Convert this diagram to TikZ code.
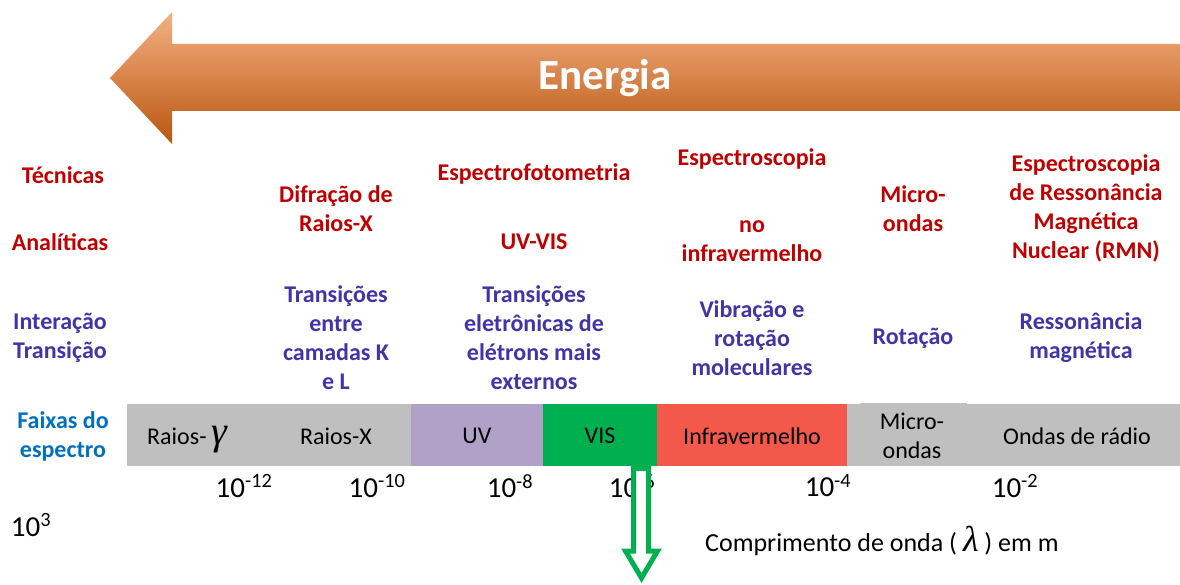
\documentclass[tikz,border=0pt]{standalone}
\usepackage{fontspec}
\setmainfont{Carlito}
\newfontfamily\grkfont{Liberation Serif}
\definecolor{techred}{HTML}{C00000}
\definecolor{interblue}{HTML}{4034A8}
\definecolor{faixablue}{HTML}{0070C0}
\definecolor{bandgray}{HTML}{BFBFBF}
\definecolor{bandpurple}{HTML}{B1A0C7}
\definecolor{bandgreen}{HTML}{00B050}
\definecolor{bandred}{HTML}{F2594B}
\definecolor{orlight}{HTML}{F4B183}
\definecolor{ormid}{HTML}{EE8235}
\definecolor{ordark}{HTML}{B9560F}
\tikzset{
  tech/.style={text=techred, font=\fontsize{24}{29}\selectfont\bfseries, align=center, inner sep=0pt},
  inter/.style={text=interblue, font=\fontsize{24}{29}\selectfont\bfseries, align=center, inner sep=0pt},
  faixa/.style={text=faixablue, font=\fontsize{24}{29}\selectfont\bfseries, align=center, inner sep=0pt},
  bandtxt/.style={text=black, font=\fontsize{24}{29}\selectfont, align=center, inner sep=0pt},
  ticklbl/.style={text=black, font=\fontsize{29}{32}\selectfont, inner sep=0pt},
}
\begin{document}
\begin{tikzpicture}[x=1pt,y=-1pt]
\useasboundingbox (0,0) rectangle (1180,585);
% Energy arrow
\shade[top color=orlight, middle color=ormid, bottom color=ordark]
  (110,78) -- (172,12) -- (172,44) -- (1180,44) -- (1180,111) -- (172,111) -- (172,144) -- cycle;
\node[text=white, font=\fontsize{43}{50}\selectfont\bfseries, inner sep=0pt] (energia) at (605,78) {Energia};

% left labels
\node[tech] (tecnicas) at (63,175) {Técnicas};
\node[tech] (analiticas) at (60,242) {Analíticas};
\node[inter] (interacao) at (60,337.5) {Interação\\Transição};
\node[faixa] (faixas) at (63,436) {Faixas do\\espectro};

% technique labels
\node[tech] (difracao) at (336,208.5) {Difração de\\Raios-X};
\node[tech] (espectrofoto) at (534,174) {Espectrofotometria};
\node[tech] (uvvis) at (534,242) {UV-VIS};
\node[tech] (espir) at (752,159) {Espectroscopia};
\node[tech] (noir) at (752,241) {no\\infravermelho};
\node[tech] (micro) at (913,208.5) {Micro-\\ondas};
\node[tech] (rmn) at (1086,208) {Espectroscopia\\de Ressonância\\Magnética\\Nuclear (RMN)};

% interaction labels
\node[inter] (transx) at (336,337.5) {Transições\\entre\\camadas K\\e L};
\node[inter] (transuv) at (534,337.5) {Transições\\eletrônicas de\\elétrons mais\\externos};
\node[inter] (vib) at (752,338) {Vibração e\\rotação\\moleculares};
\node[inter] (rot) at (913,338) {Rotação};
\node[inter] (ress) at (1081,337.5) {Ressonância\\magnética};

% spectrum bands
\fill[bandgray] (127,404) rectangle (411,466);
\fill[bandpurple] (411,404) rectangle (543,466);
\fill[bandgreen] (543,404) rectangle (657,466);
\fill[bandred] (657,404) rectangle (847,466);
\fill[bandgray] (847,404) rectangle (1180,466);
\fill[bandgray] (860,403) rectangle (967,405);
\node[bandtxt, anchor=base west] (gama) at (147,444) {Raios-\hspace{5pt}{\grkfont\itshape\fontsize{40}{40}\selectfont γ}};
\node[bandtxt] (raiosx) at (336,436) {Raios-X};
\node[bandtxt] (uv) at (477,436) {UV};
\node[bandtxt] (vis) at (600,436) {VIS};
\node[bandtxt] (ir) at (752,436) {Infravermelho};
\node[bandtxt] (mw) at (912,436) {Micro-\\ondas};
\node[bandtxt] (radio) at (1077,436) {Ondas de rádio};

% tick labels
\node[ticklbl] (t12) at (244,486) {10\textsuperscript{-12}};
\node[ticklbl] (t10) at (377,486) {10\textsuperscript{-10}};
\node[ticklbl] (t8) at (510,486) {10\textsuperscript{-8}};
\node[ticklbl] (t6) at (632,486) {10\textsuperscript{-6}};
\node[ticklbl] (t4) at (828,486) {10\textsuperscript{-4}};
\node[ticklbl] (t2) at (1015,486) {10\textsuperscript{-2}};
\node[ticklbl] (t3) at (31,525) {10\textsuperscript{3}};

% hollow green arrow
\draw[bandgreen, line width=5pt, fill=white, line join=miter]
  (633.5,468.5) -- (633.5,551) -- (625.5,551) -- (641.5,578) -- (657.5,551) -- (648.5,551) -- (648.5,468.5) -- cycle;

\node[text=black, font=\fontsize{26}{32}\selectfont, inner sep=0pt, anchor=base west] (comp) at (705,551)
  {Comprimento de onda ( {\grkfont\itshape\fontsize{36}{36}\selectfont λ} ) em m};
\end{tikzpicture}
\end{document}
